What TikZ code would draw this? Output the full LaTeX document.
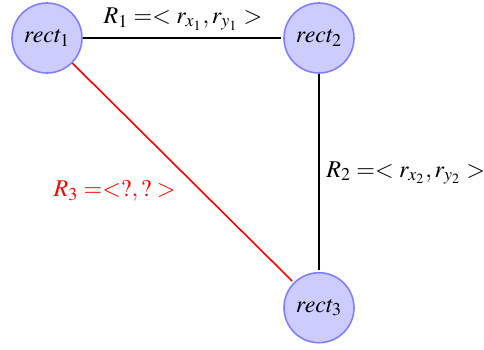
\documentclass[tikz,border=0pt]{standalone}
\usepackage{mathptmx}

\begin{document}
\begin{tikzpicture}[
  v/.style={circle,draw=blue!50,fill=blue!20,thick,minimum size=1.23cm,inner sep=0pt},
  edge/.style={black,thick,shorten >=1pt},
  every node/.style={font=\large},
  x=1cm,y=1cm
]
  \useasboundingbox (-0.826,0.668) rectangle (7.68,-5.48);

  \node[v] (r1) at (0,0) {$rect_1$};
  \node[v] (r2) at (4.78,0) {$rect_2$};
  \node[v] (r3) at (4.78,-4.74) {$rect_3$};

  \draw[edge] (r1)--node[above]{$R_1 =< r_{x_1},r_{y_1} >$}(r2);
  \draw[edge] (r2)--node[right]{$R_2 =< r_{x_2},r_{y_2} >$}(r3);
  \draw[edge,red] (r1)--node[below left,text=red]{$R_3 =<?,? >$}(r3);
\end{tikzpicture}
\end{document}
